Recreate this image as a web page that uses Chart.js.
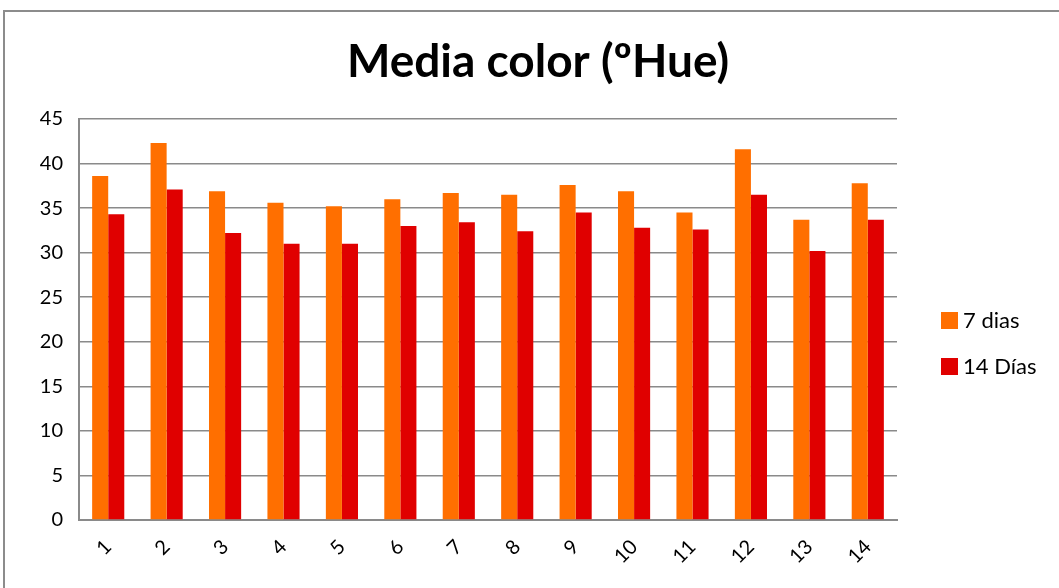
<!DOCTYPE html>
<html>
<head>
<meta charset="utf-8">
<script src="https://cdn.jsdelivr.net/npm/chart.js@4/dist/chart.umd.min.js"></script>
<style>
    html, body { margin: 0; padding: 0; background: #fff; }
    #wrap { position: relative; width: 1059px; height: 588px; }
</style>
</head>
<body>
<div id="wrap"><canvas id="chart" width="1059" height="588"></canvas></div>
<script>
// Data
const categories = ['1', '2', '3', '4', '5', '6', '7', '8', '9', '10', '11', '12', '13', '14'];
const dias7 = [38.6, 42.3, 36.9, 35.6, 35.2, 36.0, 36.7, 36.5, 37.6, 36.9, 34.5, 41.6, 33.7, 37.8];
const dias14 = [34.3, 37.1, 32.2, 31.0, 31.0, 33.0, 33.4, 32.4, 34.5, 32.8, 32.6, 36.5, 30.2, 33.7];
const seriesLabels = ['7 dias', '14 Días'];
const seriesColors = ['#FF6F00', '#E00000'];
const yTicks = [0, 5, 10, 15, 20, 25, 30, 35, 40, 45];
const chartTitle = 'Media color (ºHue)';

const fontFamily = "Lato, 'Open Sans', sans-serif";
const gridColor = '#8a8a8a';

// Outer frame of the chart (only top and left edges are visible in the picture)
const framePlugin = {
    id: 'frame',
    beforeDraw: (chart) => {
        const ctx = chart.ctx;
        ctx.save();
        ctx.strokeStyle = '#8c8c8c';
        ctx.lineWidth = 2;
        ctx.strokeRect(4, 11, 1200, 700);
        ctx.restore();
    }
};

// Title centred on the whole canvas, and the legend on the right
const titleAndLegendPlugin = {
    id: 'titleAndLegend',
    afterDraw: (chart) => {
        const ctx = chart.ctx;
        ctx.save();
        ctx.fillStyle = '#000';
        ctx.font = `bold 46px ${fontFamily}`;
        ctx.textAlign = 'center';
        ctx.textBaseline = 'middle';
        ctx.fillText(chartTitle, 538, 62);

        ctx.font = `22px ${fontFamily}`;
        ctx.textAlign = 'left';
        chart.data.datasets.forEach((ds, i) => {
            const cy = 320 + i * 46;
            ctx.fillStyle = ds.backgroundColor;
            ctx.fillRect(941, cy - 8, 17, 17);
            ctx.fillStyle = '#000';
            ctx.fillText(ds.label, 963, cy + 1);
        });
        ctx.restore();
    }
};

new Chart(document.getElementById('chart'), {
    type: 'bar',
    data: {
        labels: categories,
        datasets: [
            { label: seriesLabels[0], data: dias7, backgroundColor: seriesColors[0] },
            { label: seriesLabels[1], data: dias14, backgroundColor: seriesColors[1] }
        ]
    },
    options: {
        responsive: false,
        animation: false,
        layout: { padding: { left: 0, right: 162, top: 119, bottom: 0 } },
        datasets: {
            bar: { categoryPercentage: 0.55, barPercentage: 1.0, borderWidth: 0 }
        },
        scales: {
            x: {
                grid: { display: false, drawTicks: false },
                border: { display: true, color: gridColor, width: 2 },
                ticks: {
                    color: '#000',
                    font: { family: fontFamily, size: 20 },
                    minRotation: 45,
                    maxRotation: 45,
                    padding: 15
                },
                afterFit: (scale) => { scale.height = 68; }
            },
            y: {
                min: 0,
                max: 45,
                afterBuildTicks: (scale) => { scale.ticks = yTicks.map(v => ({ value: v })); },
                grid: { color: gridColor, lineWidth: 1.5, drawTicks: false },
                border: { display: true, color: gridColor, width: 2 },
                ticks: {
                    color: '#000',
                    font: { family: fontFamily, size: 20 },
                    padding: 16
                },
                afterFit: (scale) => { scale.width = 79; }
            }
        },
        plugins: {
            legend: { display: false },
            tooltip: { enabled: false },
            title: { display: false }
        }
    },
    plugins: [framePlugin, titleAndLegendPlugin]
});
</script>
</body>
</html>
